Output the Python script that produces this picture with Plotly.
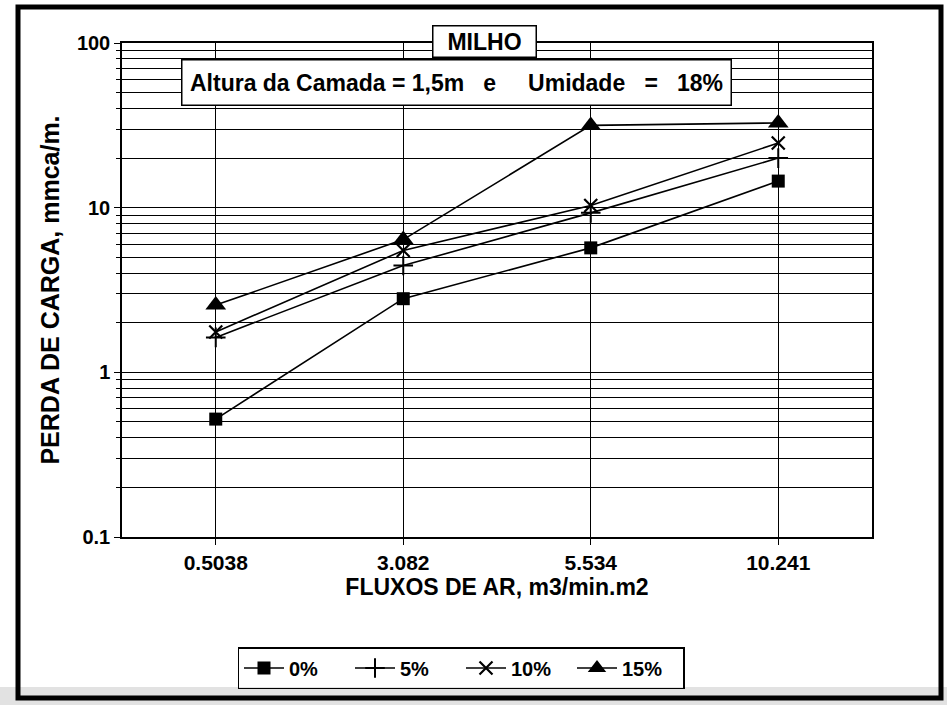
import plotly.graph_objects as go

# Air flow rates (categorical x axis)
fluxos = ["0.5038", "3.082", "5.534", "10.241"]

# Pressure drop (mmca/m) for each impurity level
perda_0 = [0.52, 2.8, 5.7, 14.5]
perda_5 = [1.63, 4.45, 9.3, 20.0]
perda_10 = [1.76, 5.5, 10.3, 24.7]
perda_15 = [2.56, 6.4, 31.6, 32.7]

series_names = ["0%", "5%", "10%", "15%"]

y_tickvals = [0.1, 1, 10, 100]
y_ticktext = ["0.1", "1", "10", "100"]

W, H = 947, 705
L, R, T, B = 122, 75, 43, 168
PW, PH = W - L - R, H - T - B


def px(x):
    return (x - L) / PW


def py(y):
    return (H - B - y) / PH


FONT = "Liberation Sans, Arial, sans-serif"
SP = "&nbsp;"


def bold(s):
    return "<b>" + s + "</b>"


symbols = [
    dict(symbol="square", size=13),
    dict(symbol="cross-thin", size=14, line=dict(width=2, color="black")),
    dict(symbol="x-thin", size=13, line=dict(width=2.2, color="black")),
    dict(symbol="triangle-up", size=18),
]

fig = go.Figure()
for name, vals, mk in zip(series_names, [perda_0, perda_5, perda_10, perda_15], symbols):
    fig.add_trace(go.Scatter(
        x=fluxos, y=vals, name=bold(name), mode="lines+markers",
        line=dict(color="black", width=1.6),
        marker=dict(color="black", **mk),
    ))

minor_vals = [m * 10 ** e for e in (-1, 0, 1) for m in range(2, 10)]

fig.update_layout(
    width=W, height=H,
    margin=dict(l=L, r=R, t=T, b=B),
    paper_bgcolor="white", plot_bgcolor="white",
    font=dict(family=FONT, color="black", size=19),
    showlegend=True,
    legend=dict(
        orientation="h", x=px(461), y=py(668), xanchor="center", yanchor="middle",
        bordercolor="black", borderwidth=1.5, bgcolor="rgba(0,0,0,0)",
        font=dict(size=20, family=FONT), itemwidth=40,
        entrywidth=56, entrywidthmode="pixels",
    ),
    xaxis=dict(
        type="category", range=[-0.5, 3.5],
        tickvals=fluxos, ticktext=[bold(f) for f in fluxos],
        showgrid=True, gridcolor="black", gridwidth=1.2,
        showline=True, linecolor="black", linewidth=1.5, mirror=True,
        ticks="outside", ticklen=6, tickcolor="black",
        tickfont=dict(size=21),
        title=dict(text=bold("FLUXOS DE AR, m3/min.m2"), font=dict(size=23), standoff=4),
        zeroline=False,
    ),
    yaxis=dict(
        type="log", range=[-1, 2],
        tickvals=y_tickvals, ticktext=[bold(t) for t in y_ticktext],
        showgrid=True, gridcolor="black", gridwidth=1.4,
        showline=True, linecolor="black", linewidth=1.5, mirror=True,
        ticks="outside", ticklen=6, tickcolor="black",
        tickfont=dict(size=20),
        minor=dict(tickvals=minor_vals, showgrid=True, gridcolor="black",
                   gridwidth=1.1, ticks="outside", ticklen=4, tickcolor="black"),
        title=dict(text=bold("PERDA DE CARGA, mmca/m."), font=dict(size=25), standoff=10),
        zeroline=False,
    ),
)

# Header boxes
fig.add_annotation(
    x=px(484), y=py(42), xref="paper", yref="paper",
    text=bold("MILHO"), showarrow=False, font=dict(size=23),
    bgcolor="white", bordercolor="black", borderwidth=1.5,
    width=100, height=28, xanchor="center", yanchor="middle",
)
fig.add_annotation(
    x=px(456), y=py(82), xref="paper", yref="paper",
    text=bold("Altura" + SP + "da" + SP + "Camada" + SP + "=" + SP + "1,5m" + SP * 3 + "e"
              + SP * 5 + "Umidade" + SP * 3 + "=" + SP * 3 + "18%"),
    showarrow=False, font=dict(size=23),
    bgcolor="white", bordercolor="black", borderwidth=1.5,
    width=546, height=42, xanchor="center", yanchor="middle",
)

# Grey band along the bottom edge
fig.add_shape(
    type="rect", xref="paper", yref="paper",
    x0=px(0), x1=px(W), y0=py(687), y1=py(H),
    fillcolor="#cfcfcf", opacity=0.6, line=dict(width=0), layer="below",
)
# Outer frame
fig.add_shape(
    type="rect", xref="paper", yref="paper",
    x0=px(18), x1=px(941), y0=py(698), y1=py(7),
    line=dict(color="black", width=5), fillcolor="rgba(0,0,0,0)",
)

fig.write_html("out.html")
